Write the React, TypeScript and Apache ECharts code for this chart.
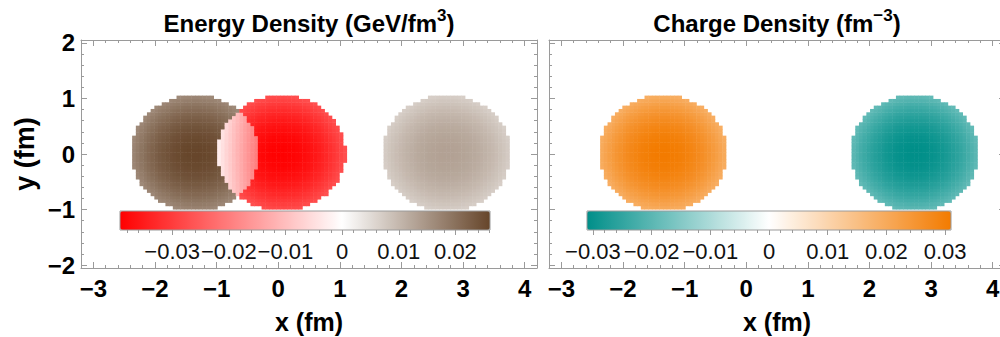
import React, { useEffect, useRef } from "react";
import * as echarts from "echarts";

// Plot window in fm
const X_RANGE = [-3.2, 4.2];
const Y_RANGE = [-2.05, 2.05];
const X_TICKS = [-3, -2, -1, 0, 1, 2, 3, 4];
const Y_TICKS = [-2, -1, 0, 1, 2];

// Energy density sources: centre (fm), radius (fm), value at the centre and at the rim
const ENERGY_CX = [-1.35, 0.05, 2.73];
const ENERGY_CY = [0.02, 0.02, 0.02];
const ENERGY_R = [1.04, 1.04, 1.04];
const ENERGY_PEAK = [0.026, -0.039, 0.0132];
const ENERGY_RIM = [0.0165, -0.027, 0.0068];

// Charge density sources
const CHARGE_CX = [-1.35, 2.73];
const CHARGE_CY = [0.02, 0.02];
const CHARGE_R = [1.04, 1.04];
const CHARGE_PEAK = [0.031, -0.031];
const CHARGE_RIM = [0.019, -0.019];

// Colour scales and bar legends
const ENERGY_RANGE = [-0.0392, 0.0261];
const CHARGE_RANGE = [-0.031, 0.031];
const ENERGY_BAR_TICKS = [-0.03, -0.02, -0.01, 0, 0.01, 0.02];
const CHARGE_BAR_TICKS = [-0.03, -0.02, -0.01, 0, 0.01, 0.02, 0.03];
const ENERGY_STOPS = ["#ff0000", "#ffffff", "#66452a"];
const CHARGE_STOPS = ["#008f89", "#ffffff", "#f37b00"];

// Sampling step of the density grid (fm)
const CELL = 0.06;

const FONT = "'Liberation Sans', Arial, Helvetica, sans-serif";
const FRAME = "#9a9a9a";

const minus = (v: number) => (v < 0 ? "\u2212" : "") + String(Math.abs(v));

function minorSteps(range: number[], step: number, majors: number[]) {
  const out: number[] = [];
  const k0 = Math.ceil(range[0] / step - 1e-9);
  const k1 = Math.floor(range[1] / step + 1e-9);
  for (let k = k0; k <= k1; k++) {
    const v = +(k * step).toFixed(5);
    if (!majors.some((m) => Math.abs(m - v) < 1e-9)) out.push(v);
  }
  return out;
}

function hexToRgb(h: string) {
  const n = parseInt(h.slice(1), 16);
  return [(n >> 16) & 255, (n >> 8) & 255, n & 255];
}

function mix(a: string, b: string, t: number) {
  const A = hexToRgb(a);
  const B = hexToRgb(b);
  return "rgb(" + A.map((c, i) => Math.round(c + (B[i] - c) * t)).join(",") + ")";
}

// Diverging scale with white pinned at zero
function divergingScale(stops: string[], range: number[], n = 101) {
  const z = (0 - range[0]) / (range[1] - range[0]);
  const out: string[] = [];
  for (let k = 0; k < n; k++) {
    const t = k / (n - 1);
    out.push(t <= z ? mix(stops[0], stops[1], t / z) : mix(stops[1], stops[2], (t - z) / (1 - z)));
  }
  return out;
}

// Superposition of the discs sampled on the grid; nodes outside every disc are left empty
function buildField(cx: number[], cy: number[], r: number[], peak: number[], rim: number[]) {
  const data: number[][] = [];
  const i0 = Math.ceil(X_RANGE[0] / CELL);
  const i1 = Math.floor(X_RANGE[1] / CELL);
  const j0 = Math.ceil(Y_RANGE[0] / CELL);
  const j1 = Math.floor(Y_RANGE[1] / CELL);
  for (let i = i0; i <= i1; i++) {
    for (let j = j0; j <= j1; j++) {
      const x = +(i * CELL).toFixed(3);
      const y = +(j * CELL).toFixed(3);
      let inside = false;
      let v = 0;
      for (let k = 0; k < cx.length; k++) {
        const d = Math.hypot(x - cx[k], y - cy[k]);
        if (d < r[k]) {
          inside = true;
          const s = (d / r[k]) ** 2;
          v += peak[k] + (rim[k] - peak[k]) * s;
        }
      }
      if (inside) data.push([x, y, +v.toFixed(5)]);
    }
  }
  return data;
}

const renderCell = (_params: any, api: any) => {
  const c = api.coord([api.value(0), api.value(1)]);
  const s = api.size([CELL, CELL]);
  return {
    type: "rect",
    shape: { x: c[0] - s[0] / 2, y: c[1] - s[1] / 2, width: s[0] + 0.5, height: s[1] + 0.5 },
    style: { fill: api.visual("color") },
  };
};

function frameAxis(kind: "x" | "y", grid: number, position: string, major: boolean, extra: any = {}) {
  const range = kind === "x" ? X_RANGE : Y_RANGE;
  const ticks = kind === "x" ? X_TICKS : Y_TICKS;
  return {
    gridIndex: grid,
    type: "value",
    position,
    min: range[0],
    max: range[1],
    axisLine: { show: major, onZero: false, lineStyle: { color: FRAME, width: 1 } },
    axisTick: {
      show: true,
      inside: true,
      length: major ? 6 : 3,
      customValues: major ? ticks : minorSteps(range, 0.2, ticks),
      lineStyle: { color: FRAME, width: 1 },
    },
    axisLabel: { show: false },
    splitLine: { show: false },
    ...extra,
  };
}

const tickLabel = (ticks: number[]) => ({
  show: true,
  customValues: ticks,
  formatter: minus,
  fontSize: 24,
  fontWeight: "bold",
  color: "#000",
  fontFamily: FONT,
});

const xName = { fontSize: 25, fontWeight: "bold", color: "#000", fontFamily: FONT, lineHeight: 28 };
const yName = { fontSize: 27, fontWeight: "bold", color: "#000", fontFamily: FONT, lineHeight: 28 };

const titleRich = {
  b: { fontSize: 24, fontWeight: "bold", color: "#000", fontFamily: FONT, lineHeight: 32 },
  s: { fontSize: 17, fontWeight: "bold", color: "#000", fontFamily: FONT, lineHeight: 10, verticalAlign: "top" },
};

function barAxis(grid: number, range: number[], ticks: number[], major: boolean) {
  return {
    gridIndex: grid,
    type: "value",
    position: "bottom",
    min: range[0],
    max: range[1],
    axisLine: { show: false, onZero: false },
    axisTick: {
      show: true,
      inside: false,
      length: major ? 5 : 3,
      customValues: major ? ticks : minorSteps(range, 0.002, ticks),
      lineStyle: { color: FRAME, width: 1 },
    },
    axisLabel: major
      ? { show: true, customValues: ticks, formatter: minus, fontSize: 22, color: "#111", fontFamily: FONT, margin: 10 }
      : { show: false },
    splitLine: { show: false },
  };
}

function panelXAxes(grid: number, title: string) {
  return [
    frameAxis("x", grid, "bottom", true, {
      axisLabel: { ...tickLabel(X_TICKS), margin: 8 },
      name: "x (fm)",
      nameLocation: "middle",
      nameGap: 40,
      nameTextStyle: xName,
    }),
    frameAxis("x", grid, "bottom", false),
    frameAxis("x", grid, "top", true, {
      name: title,
      nameLocation: "middle",
      nameGap: 1,
      nameTextStyle: { rich: titleRich },
    }),
    frameAxis("x", grid, "top", false),
  ];
}

function panelYAxes(grid: number, labelled: boolean) {
  const left = labelled
    ? frameAxis("y", grid, "left", true, {
        axisLabel: { ...tickLabel(Y_TICKS), margin: 6 },
        name: "y (fm)",
        nameLocation: "middle",
        nameGap: 42,
        nameTextStyle: yName,
      })
    : frameAxis("y", grid, "left", true);
  return [left, frameAxis("y", grid, "left", false), frameAxis("y", grid, "right", true), frameAxis("y", grid, "right", false)];
}

export default function App() {
  const ref = useRef<HTMLDivElement>(null);

  useEffect(() => {
    if (!ref.current) return;
    const chart = echarts.init(ref.current, undefined, { renderer: "svg" });

    const energyField = buildField(ENERGY_CX, ENERGY_CY, ENERGY_R, ENERGY_PEAK, ENERGY_RIM);
    const chargeField = buildField(CHARGE_CX, CHARGE_CY, CHARGE_R, CHARGE_PEAK, CHARGE_RIM);

    const plainGrid = { outerBoundsMode: "none", containLabel: false };
    const barGrid = {
      show: true,
      borderColor: FRAME,
      borderWidth: 1,
      backgroundColor: "rgba(0,0,0,0)",
      z: 10,
      outerBoundsMode: "none",
      containLabel: false,
    };

    chart.setOption({
      animation: false,
      backgroundColor: "#ffffff",
      grid: [
        { left: 81, top: 40, width: 456, height: 228, ...plainGrid },
        { left: 549, top: 40, width: 456, height: 228, ...plainGrid },
        { left: 120, top: 211, width: 370, height: 19, ...barGrid },
        { left: 587, top: 211, width: 364, height: 19, ...barGrid },
      ],
      xAxis: [
        ...panelXAxes(0, "{b|Energy Density (GeV/fm}{s|3}{b|)}"),
        ...panelXAxes(1, "{b|Charge Density (fm}{s|\u22123}{b|)}"),
        barAxis(2, ENERGY_RANGE, ENERGY_BAR_TICKS, true),
        barAxis(2, ENERGY_RANGE, ENERGY_BAR_TICKS, false),
        barAxis(3, CHARGE_RANGE, CHARGE_BAR_TICKS, true),
        barAxis(3, CHARGE_RANGE, CHARGE_BAR_TICKS, false),
      ],
      yAxis: [
        ...panelYAxes(0, true),
        ...panelYAxes(1, false),
        { gridIndex: 2, type: "value", min: 0, max: 1, show: false },
        { gridIndex: 3, type: "value", min: 0, max: 1, show: false },
      ],
      visualMap: [
        {
          type: "continuous",
          seriesIndex: 0,
          dimension: 2,
          min: ENERGY_RANGE[0],
          max: ENERGY_RANGE[1],
          inRange: { color: divergingScale(ENERGY_STOPS, ENERGY_RANGE) },
          orient: "horizontal",
          left: 120,
          top: 211,
          itemWidth: 19,
          itemHeight: 370,
          calculable: false,
          hoverLink: false,
          padding: 0,
          z: 4,
        },
        {
          type: "continuous",
          seriesIndex: 1,
          dimension: 2,
          min: CHARGE_RANGE[0],
          max: CHARGE_RANGE[1],
          inRange: { color: divergingScale(CHARGE_STOPS, CHARGE_RANGE) },
          orient: "horizontal",
          left: 587,
          top: 211,
          itemWidth: 19,
          itemHeight: 364,
          calculable: false,
          hoverLink: false,
          padding: 0,
          z: 4,
        },
      ],
      series: [
        {
          type: "custom",
          coordinateSystem: "cartesian2d",
          xAxisIndex: 0,
          yAxisIndex: 0,
          data: energyField,
          encode: { x: 0, y: 1 },
          renderItem: renderCell,
          clip: true,
          silent: true,
          progressive: 0,
        },
        {
          type: "custom",
          coordinateSystem: "cartesian2d",
          xAxisIndex: 4,
          yAxisIndex: 4,
          data: chargeField,
          encode: { x: 0, y: 1 },
          renderItem: renderCell,
          clip: true,
          silent: true,
          progressive: 0,
        },
      ],
    });

    return () => chart.dispose();
  }, []);

  return (
    <div
      ref={ref}
      style={{ position: "fixed", left: 0, top: 0, width: 1000, height: 337, background: "#fff" }}
    />
  );
}
